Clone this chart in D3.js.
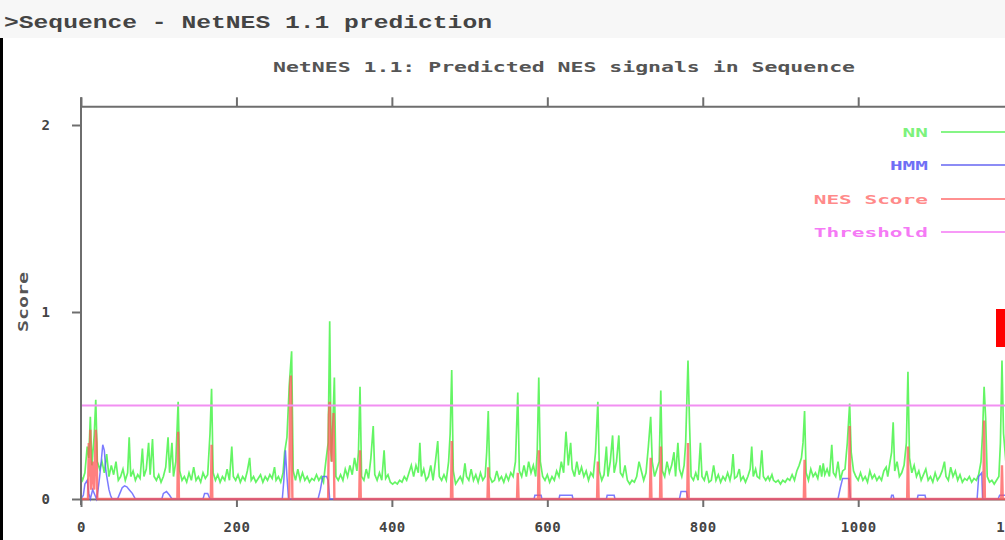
<!DOCTYPE html>
<html>
<head>
<meta charset="utf-8">
<script src="https://cdn.jsdelivr.net/npm/d3@7"></script>
<style>
  html, body { margin: 0; padding: 0; background: #fff; overflow: hidden; }
  svg { display: block; }
</style>
</head>
<body>
<script>
// ---------------- data ----------------
const pageTitle = ">Sequence - NetNES 1.1 prediction";
const chartTitle = "NetNES 1.1: Predicted NES signals in Sequence";
const yAxisTitle = "Score";
const xTicks = [0, 200, 400, 600, 800, 1000, 1200];
const yTicks = [0, 1, 2];
const thresholdValue = 0.5;
const legendLabels = ["NN", "HMM", "NES Score", "Threshold"];

// NN score per residue position [residue, score]
const nnData = [
[0,0.12],[2,0.1],[5,0.14],[8,0.28],[10,0.22],[12,0.44],[14,0.18],[17,0.34],[19,0.53],[21,0.2],[24,0.16],[27,0.2],[30,0.14],[33,0.24],[36,0.12],[39,0.18],[42,0.13],[45,0.2],[48,0.1],[51,0.12],[54,0.16],[57,0.1],[60,0.14],[62,0.33],[64,0.12],[67,0.15],[70,0.1],[73,0.13],[76,0.11],[79,0.27],[81,0.12],[84,0.16],[87,0.3],[89,0.13],[92,0.32],[94,0.12],[97,0.1],[100,0.13],[103,0.09],[106,0.12],[109,0.17],[112,0.33],[114,0.14],[117,0.3],[119,0.12],[122,0.2],[125,0.52],[127,0.15],[130,0.1],
[133,0.12],[136,0.09],[139,0.14],[142,0.1],[145,0.17],[148,0.1],[151,0.12],[154,0.09],[157,0.14],[160,0.11],[163,0.13],[166,0.35],[168,0.59],[170,0.14],[173,0.1],[176,0.13],[179,0.09],[182,0.12],[185,0.1],[188,0.16],[191,0.1],[194,0.28],[196,0.12],[199,0.1],[202,0.13],[205,0.09],[208,0.12],[211,0.1],[214,0.15],[217,0.22],[219,0.1],[222,0.12],[225,0.09],[228,0.11],[231,0.13],[234,0.09],[237,0.12],[240,0.1],[243,0.13],[246,0.11],[249,0.17],[251,0.1],[254,0.12],[257,0.09],[260,0.14],
[262,0.25],[265,0.33],[268,0.61],[271,0.79],[273,0.15],[276,0.1],[279,0.16],[282,0.1],[285,0.14],[288,0.1],[291,0.12],[294,0.09],[297,0.11],[300,0.1],[303,0.13],[306,0.1],[309,0.12],[312,0.09],[315,0.2],[318,0.3],[320,0.95],[322,0.2],[324,0.4],[326,0.65],[328,0.12],[331,0.1],[334,0.13],[337,0.1],[340,0.16],[343,0.12],[346,0.18],[349,0.13],[352,0.22],[355,0.15],[357,0.25],[359,0.6],[361,0.12],[364,0.1],[367,0.16],[370,0.11],[373,0.22],[376,0.39],[378,0.13],[381,0.1],[384,0.14],[387,0.1],[390,0.26],[392,0.11],[395,0.13],[398,0.09],
[401,0.08],[404,0.09],[407,0.08],[410,0.1],[413,0.09],[416,0.12],[419,0.1],[422,0.14],[425,0.18],[428,0.12],[431,0.18],[434,0.14],[436,0.3],[438,0.12],[441,0.16],[444,0.1],[447,0.12],[450,0.18],[453,0.1],[456,0.2],[459,0.31],[461,0.12],[464,0.1],[467,0.13],[470,0.1],[473,0.2],[475,0.35],[477,0.69],[479,0.15],[482,0.08],[485,0.1],[488,0.12],[491,0.09],[494,0.19],[496,0.12],[499,0.1],[502,0.16],[505,0.1],[508,0.13],[511,0.09],[514,0.14],[517,0.1],[520,0.12],[522,0.25],[524,0.47],[526,0.12],[529,0.09],[532,0.1],[535,0.15],[538,0.1],[541,0.12],[544,0.09],[547,0.13],[550,0.1],[553,0.14],[556,0.12],[559,0.2],[562,0.57],[564,0.15],[567,0.12],[570,0.18],[573,0.12],[576,0.2],[579,0.14],[582,0.18],[585,0.12],[587,0.25],[589,0.65],[591,0.2],[594,0.12],
[597,0.1],[600,0.13],[603,0.09],[606,0.12],[609,0.1],[612,0.15],[615,0.12],[618,0.2],[621,0.14],[624,0.36],[627,0.18],[630,0.3],[632,0.16],[635,0.12],[638,0.2],[641,0.13],[644,0.17],[647,0.12],[650,0.15],[653,0.1],[656,0.14],[659,0.12],[662,0.25],[665,0.52],[667,0.15],[670,0.1],[673,0.13],[676,0.28],[678,0.12],[681,0.2],[684,0.34],[686,0.14],[689,0.2],[692,0.34],[694,0.14],[697,0.12],[700,0.18],[703,0.1],[706,0.08],[709,0.1],[712,0.09],[715,0.12],[718,0.2],[721,0.15],[724,0.1],[727,0.14],[730,0.28],[733,0.44],[735,0.2],[738,0.12],[741,0.16],[744,0.2],[746,0.58],[748,0.15],[751,0.12],[754,0.2],[757,0.14],[760,0.18],[763,0.25],[765,0.12],[768,0.3],[770,0.16],[773,0.12],[776,0.18],[778,0.3],[781,0.74],[783,0.4],[785,0.12],[788,0.1],[791,0.14],[794,0.1],[797,0.3],[799,0.12],
[802,0.1],[805,0.15],[808,0.09],[811,0.1],[814,0.18],[817,0.1],[820,0.13],[823,0.09],[826,0.12],[829,0.1],[832,0.14],[835,0.1],[837,0.14],[839,0.24],[841,0.11],[844,0.12],[847,0.16],[849,0.1],[852,0.12],[855,0.09],[858,0.12],[861,0.16],[863,0.28],[865,0.12],[868,0.16],[870,0.12],[873,0.11],[876,0.26],[878,0.12],[881,0.1],[884,0.12],[886,0.1],[889,0.13],[891,0.1],[894,0.09],[897,0.1],[900,0.08],[903,0.1],[906,0.09],[909,0.11],[912,0.1],[915,0.13],[918,0.1],[921,0.15],[924,0.18],[927,0.22],[929,0.3],[931,0.47],[933,0.14],[936,0.1],[939,0.16],[942,0.12],[945,0.14],[948,0.11],[951,0.18],[953,0.12],[955,0.19],[957,0.13],[960,0.16],[963,0.12],[966,0.29],[968,0.14],[971,0.12],[974,0.2],[977,0.1],[980,0.15],[983,0.16],[986,0.3],[989,0.51],[991,0.25],[994,0.15],[997,0.12],
[1000,0.1],[1003,0.14],[1006,0.1],[1009,0.12],[1012,0.09],[1015,0.15],[1018,0.11],[1021,0.13],[1024,0.1],[1027,0.12],[1030,0.1],[1033,0.15],[1036,0.17],[1038,0.12],[1041,0.2],[1043,0.25],[1045,0.41],[1047,0.15],[1050,0.2],[1053,0.12],[1056,0.14],[1059,0.18],[1062,0.3],[1064,0.68],[1066,0.22],[1069,0.14],[1072,0.18],[1075,0.12],[1078,0.15],[1081,0.1],[1084,0.13],[1087,0.16],[1090,0.1],[1093,0.12],[1096,0.09],[1099,0.14],[1102,0.1],[1105,0.12],[1108,0.15],[1111,0.2],[1113,0.12],[1116,0.1],[1119,0.17],[1122,0.12],[1125,0.15],[1128,0.1],[1131,0.13],[1134,0.09],[1137,0.11],[1140,0.1],[1143,0.12],[1146,0.09],[1149,0.11],[1152,0.1],[1155,0.13],[1158,0.2],[1160,0.35],[1162,0.6],[1164,0.43],[1166,0.12],[1169,0.09],[1172,0.1],[1175,0.08],[1178,0.1],[1181,0.12],[1183,0.3],[1185,0.74],[1187,0.35],[1190,0.2]
];

// HMM score [residue, score]
const hmmData = [
[0,0],[3,0.02],[5,0.08],[8,0.1],[10,0.03],[12,0],[15,0.05],[18,0.02],[20,0],[22,0.05],[24,0.12],[26,0.2],[28,0.29],[30,0.26],[32,0.15],[34,0.1],[36,0.05],[38,0.02],[40,0],[47,0],[50,0.03],[53,0.06],[56,0.07],[59,0.065],[62,0.05],[66,0.03],[70,0],[104,0],[106,0.03],[110,0.04],[114,0.02],[117,0],[157,0],[159,0.03],[163,0.03],[166,0],[259,0],[261,0.1],[263,0.26],[265,0.12],[267,0],[305,0],[308,0.05],[311,0.12],[316,0.12],[318,0.1],[320,0],[583,0],[584,0.02],[592,0.02],[593,0],[615,0],[616,0.02],[632,0.02],[633,0],[676,0],[677,0.02],[686,0.02],[687,0],[770,0],[772,0.04],[779,0.04],[781,0],[974,0],[977,0.06],[980,0.11],[988,0.11],[990,0],[1042,0],[1043,0.02],[1045,0.02],[1046,0],[1076,0],[1077,0.02],[1086,0.02],[1087,0],[1153,0],[1155,0.12],[1159,0.14],[1160,0],[1180,0],[1182,0.02],[1190,0.02]
];

// NES score [residue, score]
const nesData = [
[0,0],[9,0],[10,0.3],[11,0.12],[12,0.37],[13,0.05],[16,0.2],[17,0.05],[19,0.37],[20,0.3],[21,0],[124,0],[125,0.36],[126,0],[167,0],[168,0.29],[169,0],[268,0],[269,0.6],[270,0.66],[271,0.4],[272,0],[318,0],[319,0.45],[320,0.52],[321,0.3],[323,0.2],[325,0.46],[326,0],[358,0],[359,0.26],[360,0],[476,0],[477,0.31],[478,0],[523,0],[524,0.17],[525,0],[561,0],[562,0.14],[563,0],[588,0],[589,0.26],[590,0],[664,0],[665,0.2],[666,0],[732,0],[733,0.22],[734,0],[745,0],[746,0.28],[747,0],[780,0],[781,0.3],[782,0],[930,0],[931,0.21],[932,0],[988,0],[989,0.39],[990,0],[1063,0],[1064,0.28],[1065,0],[1161,0],[1162,0.42],[1163,0],[1184,0],[1185,0.18],[1186,0],[1200,0]
];

// ---------------- drawing ----------------
const W = 1005, H = 540;
const svg = d3.select("body").append("svg").attr("width", W).attr("height", H);

// page header band
svg.append("rect").attr("x", 0).attr("y", 0).attr("width", W).attr("height", 38).attr("fill", "#f7f7f7");
svg.append("text").attr("x", 4).attr("y", 28)
  .attr("font-family", "'Liberation Mono', 'DejaVu Sans Mono', monospace")
  .attr("font-weight", "bold").attr("font-size", 18).attr("fill", "#444")
  .attr("textLength", 488).attr("lengthAdjust", "spacingAndGlyphs")
  .text(pageTitle);
// left dark strip
svg.append("rect").attr("x", 0).attr("y", 38).attr("width", 3).attr("height", H - 38).attr("fill", "#000");

const x = d3.scaleLinear().domain([0, 1200]).range([81, 81 + 1200 * 0.7772]);
const y = d3.scaleLinear().domain([0, 2.1]).range([499, 106.3]);

const mono = "'DejaVu Sans Mono', 'Liberation Mono', monospace";
const axisColor = "#6e6e6e";

// chart title
svg.append("text").attr("x", 273).attr("y", 72)
  .attr("font-family", mono).attr("font-size", 14).attr("font-weight", "bold").attr("fill", "#555")
  .attr("textLength", 582).attr("lengthAdjust", "spacingAndGlyphs")
  .text(chartTitle);

// y-axis title
svg.append("text").attr("transform", "translate(28,302) rotate(-90)")
  .attr("text-anchor", "middle")
  .attr("font-family", mono).attr("font-size", 14).attr("font-weight", "bold").attr("fill", "#555")
  .attr("textLength", 60).attr("lengthAdjust", "spacingAndGlyphs")
  .text(yAxisTitle);

// top axis (frame)
const topAxis = svg.append("g").attr("transform", `translate(0,${y(2.1)})`)
  .call(d3.axisTop(x).tickValues(xTicks).tickSize(9).tickFormat("").tickSizeOuter(0));
topAxis.select(".domain").attr("stroke", axisColor).attr("stroke-width", 2);
topAxis.selectAll(".tick line").attr("stroke", axisColor).attr("stroke-width", 2);

// bottom axis
const botAxis = svg.append("g").attr("transform", `translate(0,${y(0)})`)
  .call(d3.axisBottom(x).tickValues(xTicks).tickSize(8).tickPadding(15)
    .tickFormat(d3.format("d")).tickSizeOuter(0));
botAxis.select(".domain").attr("stroke", axisColor).attr("stroke-width", 2);
botAxis.selectAll(".tick line").attr("stroke", axisColor).attr("stroke-width", 2);
botAxis.selectAll(".tick text").attr("font-family", mono).attr("font-size", 14).attr("font-weight", "bold")
  .attr("fill", "#444").attr("letter-spacing", 0.5);

// left axis
const leftAxis = svg.append("g").attr("transform", `translate(${x(0)},0)`)
  .call(d3.axisLeft(y).tickValues(yTicks).tickSize(9).tickPadding(22).tickFormat(d3.format("d")).tickSizeOuter(0));
leftAxis.select(".domain").attr("stroke", axisColor).attr("stroke-width", 2)
  .attr("d", `M0,${y(2.1) - 9}V${y(0) + 6}`);
leftAxis.selectAll(".tick line").attr("stroke", axisColor).attr("stroke-width", 2);
leftAxis.selectAll(".tick text").attr("font-family", mono).attr("font-size", 14).attr("font-weight", "bold").attr("fill", "#444");

// clip for plot
svg.append("clipPath").attr("id", "plotclip").append("rect")
  .attr("x", x(0) + 1).attr("y", y(2.1)).attr("width", W).attr("height", y(0) - y(2.1) + 3);
const plot = svg.append("g").attr("clip-path", "url(#plotclip)");

const line = d3.line().x(d => x(d[0])).y(d => y(d[1]));

plot.append("path").datum(nnData).attr("d", line)
  .attr("fill", "none").attr("stroke", "#3df23d").attr("stroke-width", 1.7).attr("stroke-opacity", 0.8)
  .attr("stroke-linejoin", "miter");
plot.append("path").datum(hmmData).attr("d", line)
  .attr("fill", "none").attr("stroke", "#5a5aff").attr("stroke-width", 1.5).attr("stroke-opacity", 0.8);
plot.append("path").datum(nesData).attr("d", line)
  .attr("fill", "none").attr("stroke", "#ff5555").attr("stroke-width", 2.4).attr("stroke-opacity", 0.75);
plot.append("line")
  .attr("x1", x(0)).attr("x2", W).attr("y1", y(thresholdValue)).attr("y2", y(thresholdValue))
  .attr("stroke", "#f28ff2").attr("stroke-width", 2.2);

// legend
const legendColors = ["#86f586", "#8c8cf5", "#ff9090", "#f79af7"];
const legendTextColors = ["#7cf27c", "#6f6ff5", "#ff8a8a", "#f57af5"];
const legendY = [132, 165, 199, 232];
const lg = svg.append("g");
legendLabels.forEach((lab, i) => {
  lg.append("text").attr("x", 928).attr("y", legendY[i] + 5).attr("text-anchor", "end")
    .attr("font-family", mono).attr("font-size", 13).attr("font-weight", "bold")
    .attr("fill", legendTextColors[i])
    .attr("textLength", lab.length * 12.7).attr("lengthAdjust", "spacingAndGlyphs")
    .text(lab);
  lg.append("line").attr("x1", 941).attr("x2", W).attr("y1", legendY[i]).attr("y2", legendY[i])
    .attr("stroke", legendColors[i]).attr("stroke-width", 2);
});

// red marker partially visible at right edge
svg.append("rect").attr("x", 996).attr("y", 309).attr("width", 9).attr("height", 38).attr("fill", "#ff0000");
</script>
</body>
</html>
